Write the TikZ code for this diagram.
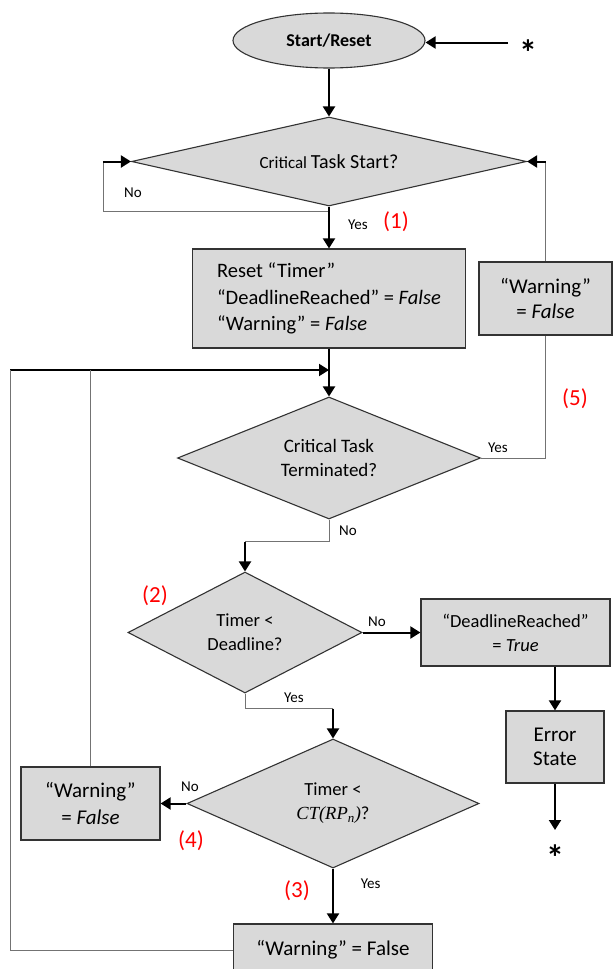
\documentclass[tikz,border=0pt]{standalone}
\usepackage{fontspec}
\setmainfont{Carlito}
\newfontfamily\timesfont{Liberation Serif}
\usetikzlibrary{shapes,arrows,arrows.meta}
\usetikzlibrary{calc}
\usetikzlibrary{positioning}
\newcommand{\fsz}[2]{\fontsize{#1}{#2}\selectfont}
\tikzstyle{block} = [draw=black!80, fill=gray!30, rectangle, line width=1.2pt,
    inner sep=0pt, align=center]
\tikzstyle{decision} = [draw=black!80, fill=gray!30, diamond, line width=1.1pt,
    inner sep=0pt, align=center]
\tikzstyle{terminal} = [draw=black!80, fill=gray!30, ellipse, line width=1.1pt,
    inner sep=0pt]
\tikzstyle{line} = [draw=black!55, line width=0.9pt]
\tikzstyle{flow} = [draw, line width=2pt, ->]
\tikzstyle{lbl} = [font=\fsz{15}{18}]
\tikzstyle{tag} = [text=red, font=\fsz{23}{26}]
\tikzstyle{star} = [font=\fsz{36}{36}\bfseries, inner sep=0pt]

\begin{document}
\begin{tikzpicture}[x=1pt, y=-1pt, >={Triangle[length=10pt,width=12pt]}]
    \clip (0,0) rectangle (613,969);
    % We start by placing the blocks
    \node [terminal, minimum width=192pt, minimum height=55pt, font=\fsz{18}{22}\bfseries]
        (start) at (329,40.5) {Start/Reset};
    \node [star] (star1) at (528,53) {*};
    \node [decision, aspect=4.4, minimum width=395pt, minimum height=89pt]
        (taskstart) at (329,161.5) {\fsz{17}{22}Critical \fsz{20}{24}Task Start?};
    \node [block, align=left, minimum width=273pt, minimum height=99pt, font=\fsz{20.5}{26.5}]
        (reset) at (329,298.5) {Reset “Timer”\\“DeadlineReached” = \textit{False}\\“Warning” = \textit{False}};
    \node [block, minimum width=133pt, minimum height=73pt, font=\fsz{21}{25}]
        (warnA) at (545.5,298.5) {“Warning”\\= \textit{False}};
    \node [decision, aspect=2.5, minimum width=303pt, minimum height=122pt, font=\fsz{19}{24}]
        (taskend) at (329,458) {Critical Task\\Terminated?};
    \node [decision, aspect=1.93, minimum width=234pt, minimum height=121pt, font=\fsz{18.5}{24}]
        (deadline) at (245,632.5) {Timer <\\Deadline?};
    \node [block, minimum width=189pt, minimum height=67pt, font=\fsz{18.5}{24}]
        (reached) at (515.5,632.5) {“DeadlineReached”\\= \textit{True}};
    \node [block, minimum width=98pt, minimum height=72pt, font=\fsz{21}{24}]
        (error) at (555,747) {Error\\State};
    \node [star] (star2) at (555,858) {*};
    \node [decision, aspect=2.26, minimum width=292pt, minimum height=129pt, font=\fsz{18.5}{24}]
        (ctcheck) at (333,803.5) {Timer <\\{\timesfont\itshape CT(RP\textsubscript{n})}?};
    \node [block, minimum width=139pt, minimum height=73pt, font=\fsz{21}{27}]
        (warnB) at (90.5,803.5) {“Warning”\\= \textit{False}};
    \node [block, minimum width=199pt, minimum height=52pt, font=\fsz{21}{24}]
        (warnC) at (333,950) {“Warning” = False};

    % bends of the connectors
    \coordinate (in1) at (508,42.5);
    \coordinate (out1) at (555,830);
    \coordinate (yes1) at ($(taskstart.south)+(0,5)$);
    \coordinate (no1) at ($(taskstart.west)+(-28,0)$);
    \coordinate (back1) at (taskstart.east -| warnA.north);
    \coordinate (join) at (329,370);
    \coordinate (loopA) at (10,370);
    \coordinate (loopB) at (90.5,370);
    \coordinate (bend1) at (329,541.7);
    \coordinate (bend2) at (bend1 -| deadline.north);
    \coordinate (bend3) at ($(deadline.south)+(0,15)$);
    \coordinate (bend4) at (bend3 -| ctcheck.north);

    \draw [flow] (in1) -- (in1 -| start.east);
    \draw [flow] (start) -- (taskstart);
    \draw [line] (yes1) -| (no1);
    \draw [flow] (no1) -- (taskstart.west);
    \draw [flow] (taskstart) -- (reset);
    \draw [line] (warnA.north) -- (back1);
    \draw [flow] (back1) -- (taskstart.east);
    \draw [flow] (reset) -- (taskend);
    \draw [line] (taskend.east) -| (warnA.south);
    \draw [flow] (loopA) -- (join);
    \draw [line] (warnB.north) -- (loopB);
    \draw [line] (warnC.west) -| (loopA);
    \draw [line] (taskend.south) |- (bend2);
    \draw [flow] (bend2) -- (deadline.north);
    \draw [flow] (deadline.east) -- (reached.west);
    \draw [flow] (reached.south -| error.north) -- (error.north);
    \draw [flow] (error) -- (out1);
    \draw [line] (deadline.south) |- (bend4);
    \draw [flow] (bend4) -- (ctcheck.north);
    \draw [flow] (ctcheck.west) -- (warnB.east);
    \draw [flow] (ctcheck.south) -- (warnC.north);

    % branch labels
    \node [lbl] (no1l) at (133,193) {No};
    \node [lbl] (yes1l) at (358,225) {Yes};
    \node [tag] (tag1) at (396,222) {(1)};
    \node [lbl] (yes2l) at (498,448) {Yes};
    \node [tag] (tag5) at (575,399) {(5)};
    \node [lbl] (no2l) at (348,531) {No};
    \node [tag] (tag2) at (155,596) {(2)};
    \node [lbl] (no3l) at (377,622) {No};
    \node [lbl] (yes3l) at (294,698) {Yes};
    \node [lbl] (no4l) at (190,787) {No};
    \node [tag] (tag4) at (191,841) {(4)};
    \node [lbl] (yes4l) at (370.6,884) {Yes};
    \node [tag] (tag3) at (297,890.7) {(3)};
\end{tikzpicture}
\end{document}
